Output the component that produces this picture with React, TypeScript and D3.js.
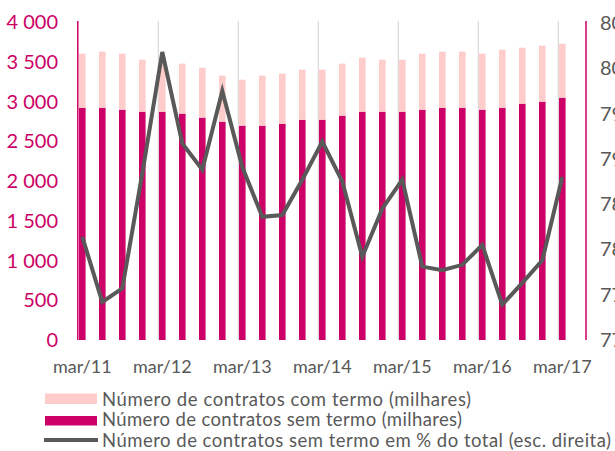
import React from "react";
import * as d3 from "d3";

const categories: string[] = [
  "mar/11","jun/11","set/11","dez/11",
  "mar/12","jun/12","set/12","dez/12",
  "mar/13","jun/13","set/13","dez/13",
  "mar/14","jun/14","set/14","dez/14",
  "mar/15","jun/15","set/15","dez/15",
  "mar/16","jun/16","set/16","dez/16",
  "mar/17",
];

const semTermo: number[] = [
  2922, 2922, 2897, 2872, 2872, 2847, 2797, 2746, 2696, 2696, 2721, 2771, 2771,
  2822, 2872, 2872, 2872, 2897, 2922, 2922, 2897, 2922, 2973, 2998, 3048,
];

const comTermo: number[] = [
  679, 705, 704, 654, 690, 629, 628, 579, 578, 629, 629, 629, 629,
  654, 679, 654, 654, 704, 705, 705, 704, 730, 704, 704, 679,
];

const pctSemTermo: number[] = [
  78.14, 77.42, 77.57, 78.84, 80.18, 79.17, 78.88, 79.75, 78.91, 78.36, 78.38, 78.77, 79.19,
  78.75, 77.92, 78.45, 78.77, 77.81, 77.77, 77.83, 78.05, 77.39, 77.63, 77.88, 78.8,
];

const leftTicks: number[] = [0, 500, 1000, 1500, 2000, 2500, 3000, 3500, 4000];
const rightTicks: number[] = [77, 77.5, 78, 78.5, 79, 79.5, 80, 80.5];
const xTickLabels: string[] = ["mar/11", "mar/12", "mar/13", "mar/14", "mar/15", "mar/16", "mar/17"];

const legendLabels: string[] = [
  "Número de contratos com termo (milhares)",
  "Número de contratos sem termo (milhares)",
  "Número de contratos sem termo em % do total (esc. direita)",
];
const legendWidths: number[] = [369, 360, 509];

const PINK = "#CC0066";
const LIGHT = "#FFCCCC";
const GREY = "#595959";
const FONT = "Lato, 'Open Sans', sans-serif";

const locale = d3.formatLocale({ decimal: ",", thousands: "\u00a0", grouping: [3], currency: ["", "€"] });
const fmtLeft = locale.format(",d");
const fmtRight = locale.format(".1f");

export default function App() {
  const W = 615, H = 451;
  const x = d3.scaleLinear().domain([0, categories.length - 1]).range([82.3, 562.3]);
  const yL = d3.scaleLinear().domain([0, 4000]).range([340, 22]);
  const yR = d3.scaleLinear().domain([77, 80.5]).range([340, 23]);
  const barW = 6.6;

  const line = d3.line<number>().x((_, i) => x(i)).y((d) => yR(d));

  const tickIdx = categories.map((c, i) => (xTickLabels.includes(c) ? i : -1)).filter((i) => i >= 0);

  return (
    <svg width={W} height={H} style={{ position: "absolute", left: 0, top: 0, background: "#fff" }} fontFamily={FONT}>
      {tickIdx.filter((i) => i > 0).map((i) => (
        <line key={"g" + i} x1={x(i) - 4} x2={x(i) - 4} y1={21} y2={340} stroke="#D9D9D9" strokeWidth={1.2} />
      ))}
      {categories.map((c, i) => (
        <g key={c}>
          <rect x={x(i) - barW / 2} width={barW} y={yL(semTermo[i])} height={yL(0) - yL(semTermo[i])} fill={PINK} />
          <rect
            x={x(i) - barW / 2}
            width={barW}
            y={yL(semTermo[i] + comTermo[i])}
            height={yL(semTermo[i]) - yL(semTermo[i] + comTermo[i])}
            fill={LIGHT}
          />
        </g>
      ))}
      <line x1={77.8} x2={77.8} y1={21} y2={340} stroke={PINK} strokeWidth={1.5} />
      <line x1={586} x2={586} y1={21} y2={340} stroke={PINK} strokeWidth={1.5} />
      <path d={line(pctSemTermo) || ""} fill="none" stroke={GREY} strokeWidth={4} strokeLinejoin="miter" />
      {leftTicks.map((t) => (
        <text key={"l" + t} x={58} y={yL(t) + 7} textAnchor="end" fontSize={20} fill={PINK}>
          {fmtLeft(t)}
        </text>
      ))}
      {rightTicks.map((t) => (
        <text key={"r" + t} x={600} y={yR(t) + 7} textAnchor="start" fontSize={20} fill={GREY}>
          {fmtRight(t)}
        </text>
      ))}
      {tickIdx.map((i) => (
        <text key={"x" + i} x={x(i)} y={373} textAnchor="middle" fontSize={18} fill={GREY}>
          {categories[i]}
        </text>
      ))}
      <rect x={45} y={393.5} width={52} height={10.5} fill={LIGHT} />
      <rect x={45} y={416} width={52} height={9.5} fill={PINK} />
      <line x1={44} x2={98} y1={440} y2={440} stroke={GREY} strokeWidth={4} />
      {legendLabels.map((l, k) => (
        <text
          key={"lg" + k}
          x={102}
          y={405.5 + k * 20.5}
          fontSize={18.5}
          fill={GREY}
          textLength={legendWidths[k]}
          lengthAdjust="spacing"
        >
          {l}
        </text>
      ))}
    </svg>
  );
}
